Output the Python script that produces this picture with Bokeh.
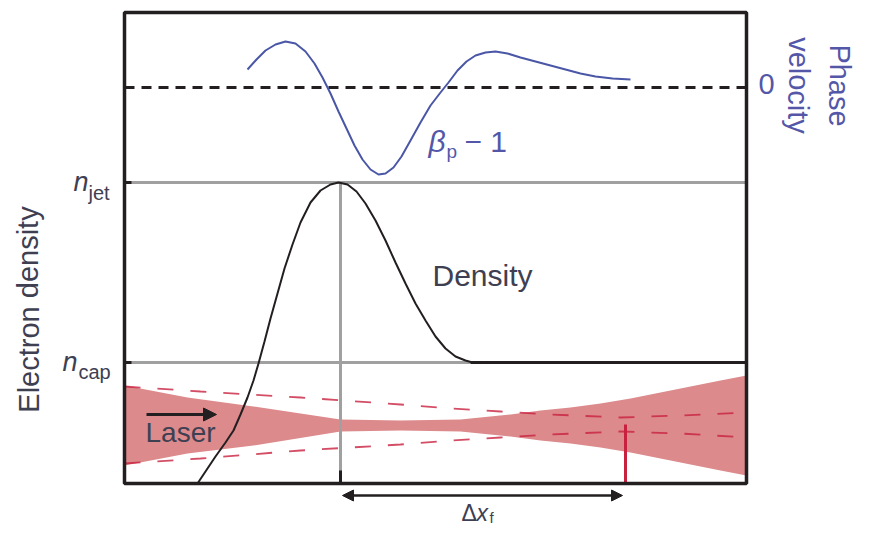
from bokeh.plotting import figure
from bokeh.models import Range1d, Arrow, NormalHead
from bokeh.core.properties import value
from bokeh.embed import file_html
from bokeh.resources import INLINE

# ---- data (x to the right, y downward, in picture pixels) ----
box_left, box_right, box_top, box_bottom = 124, 746, 12, 483

zero_level = 87          # phase velocity = 0 (dashed)
n_jet_level = 182        # jet density
n_cap_level = 362        # capillary density
peak_x = 340             # density peak position
focus_x = 625            # focus position (red marker)
focus_top = 424

phase_x = [247, 256, 265, 275, 285, 295, 305, 314, 322, 330, 338, 346, 354, 362, 370, 378, 385, 393, 401, 410, 420, 430, 440, 448, 457, 466, 475, 485, 495, 507, 520, 535, 550, 565, 580, 595, 612, 630]
phase_y = [69, 59, 50, 44, 41, 43, 51, 63, 77, 93, 111, 128, 145, 159, 169, 174, 173, 167, 156, 140, 122, 105, 92, 82, 70, 61, 55, 52, 51, 53, 57, 61, 65, 69, 73, 76, 78, 79]

dens_x = [197, 205, 215, 225, 233, 240, 247, 253, 258, 264, 270, 277, 284, 292, 300, 310, 320, 330, 338, 347, 356, 365, 375, 385, 395, 405, 415, 425, 435, 445, 455, 465, 472, 480]
dens_y = [483, 471, 456, 442, 430, 414, 397, 380, 363, 341, 318, 293, 268, 244, 222, 202, 190, 184, 182, 184, 191, 203, 220, 240, 262, 283, 303, 320, 336, 348, 356, 360, 362, 362]

beam_x = [124, 187, 253, 340, 400, 460, 510, 540, 570, 600, 630, 660, 690, 720, 746]
beam_top = [385, 397, 406, 419, 420, 419, 414, 410, 407, 403, 398, 392, 386, 380, 375]
beam_bot = [465, 453, 445, 431, 430, 431, 436, 440, 443, 447, 452, 458, 464, 470, 475]

ray_x = [124, 200, 300, 400, 450, 500, 550, 620, 680, 746]
ray_top = [386, 391, 397, 404, 408, 411, 414, 417, 415, 412]
ray_bot = [463, 458, 450, 444, 440, 437, 434, 431, 433, 437]

dx_start, dx_end, dx_level = 342, 622, 495
laser_arrow = (146, 216, 414)

FONT = value("Liberation Sans")
DARK = "#3e4052"
BLUE = "#5457a8"
BLACK = "#231f20"
GRAY = "#a0a0a0"
PINK = "#dc8a8c"
RED = "#c8203f"

p = figure(width=873, height=526, x_range=Range1d(0, 873), y_range=Range1d(526, 0),
           output_backend="svg", toolbar_location=None, min_border=0,
           x_axis_location=None, y_axis_location=None)
p.xgrid.visible = False
p.ygrid.visible = False
p.outline_line_color = None
p.background_fill_color = "white"

# laser beam envelope
p.varea(x=beam_x, y1=beam_top, y2=beam_bot, fill_color=PINK)
# focused rays (dashed)
p.line(ray_x, ray_top, line_color=RED, line_width=1.8, line_dash="16 17", line_alpha=0.8)
p.line(ray_x, ray_bot, line_color=RED, line_width=1.8, line_dash="16 17", line_alpha=0.8)

# reference levels
p.line([box_left, box_right], [zero_level, zero_level], line_color=BLACK, line_width=3, line_dash="10 7")
p.line([box_left, box_right], [n_jet_level, n_jet_level], line_color=GRAY, line_width=3)
p.line([box_left, 470], [n_cap_level, n_cap_level], line_color=GRAY, line_width=3)
p.line([470, box_right], [n_cap_level, n_cap_level], line_color=BLACK, line_width=3)
p.line([peak_x, peak_x], [n_jet_level, box_bottom], line_color=GRAY, line_width=3)
p.line([peak_x, peak_x], [470, box_bottom], line_color=BLACK, line_width=3)
for lv in (n_jet_level, n_cap_level):
    p.line([box_left, box_left + 7], [lv, lv], line_color=BLACK, line_width=3)

# focus marker
p.line([focus_x, focus_x], [focus_top, box_bottom], line_color=RED, line_width=3)

# curves
p.line(dens_x, dens_y, line_color=BLACK, line_width=2)
p.line(phase_x, phase_y, line_color="#4a56a6", line_width=2)

# frame box
p.quad(left=[box_left], right=[box_right], top=[box_top], bottom=[box_bottom],
       fill_color=None, line_color=BLACK, line_width=3.5)

# arrows
p.add_layout(Arrow(end=NormalHead(size=13, fill_color=BLACK, line_color=BLACK),
                   x_start=laser_arrow[0], y_start=laser_arrow[2],
                   x_end=laser_arrow[1], y_end=laser_arrow[2],
                   line_color=BLACK, line_width=3))
p.add_layout(Arrow(start=NormalHead(size=11, fill_color=BLACK, line_color=BLACK),
                   end=NormalHead(size=11, fill_color=BLACK, line_color=BLACK),
                   x_start=dx_start, y_start=dx_level, x_end=dx_end, y_end=dx_level,
                   line_color=BLACK, line_width=2.5))

def txt(x, y, s, size, color, align="left", angle=0.0, style="normal"):
    # y is the vertical centre of the text line
    p.text(x=[x], y=[y], text=[s], text_font=FONT, text_font_size=value(f"{size}px"),
           text_color=color, text_align=align, text_baseline="middle", angle=angle,
           text_font_style=style)

txt(432, 275, "Density", 30, DARK)
txt(145, 432, "Laser", 28, DARK)
txt(28, 309, "Electron density", 29, DARK, align="center", angle=1.5708)
txt(839, 85, "Phase", 29, BLUE, align="center", angle=-1.5708)
txt(798, 85, "velocity", 29, BLUE, align="center", angle=-1.5708)
txt(766, 83, "0", 29, BLUE, align="center")
# beta_p - 1
txt(428, 141, "β", 30, BLUE, style="italic")
txt(446, 151, "p", 19, BLUE)
txt(464, 141, "− 1", 30, BLUE)
# n_jet, n_cap
txt(73, 181, "n", 27, DARK, style="italic")
txt(88, 192, "jet", 20, DARK)
txt(62, 361, "n", 27, DARK, style="italic")
txt(78, 371, "cap", 20, DARK)
# delta x_f
txt(461, 512, "Δ", 23, DARK)
txt(476, 512, "x", 23, DARK, style="italic")
txt(489, 517, "f", 15, DARK)

open("out.html", "w").write(file_html(p, INLINE))
